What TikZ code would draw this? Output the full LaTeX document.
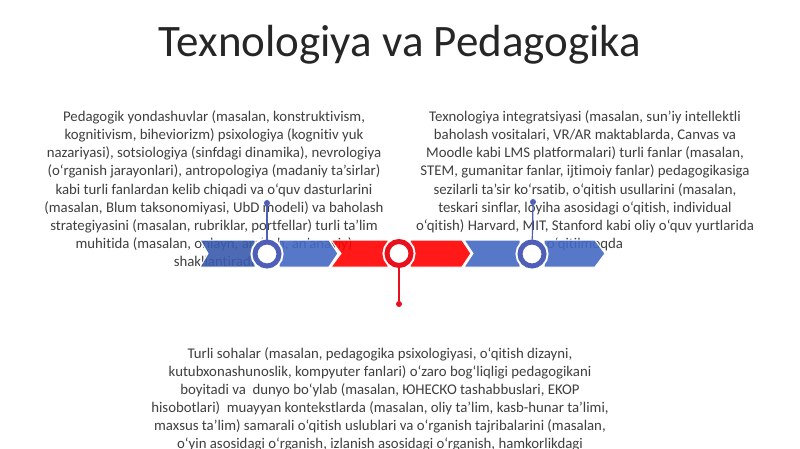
\documentclass[tikz,border=0pt]{standalone}
\usepackage{fontspec}
\setmainfont{Carlito}[Ligatures=NoCommon]
\definecolor{txt}{HTML}{3F3F3F}
\definecolor{ttl}{HTML}{262626}
\definecolor{bdark}{HTML}{3A5BAE}
\definecolor{bmid}{HTML}{4569C4}
\definecolor{ring}{HTML}{4F5FB8}
\definecolor{rred}{HTML}{FF0000}
\definecolor{ringred}{HTML}{E8101C}
\tikzset{
  body/.style={align=center, text=txt, font=\fontsize{14.8}{18.15}\selectfont, inner sep=0},
  seg/.style={draw=white, line width=1pt, fill opacity=0.9},
  ringnode/.style={circle, inner sep=0, minimum size=24pt, line width=5pt, fill=white,
     preaction={draw=white, line width=9pt}},
  dotnode/.style={circle, inner sep=0, minimum size=6pt},
  stem/.style={line width=1.2pt}
}
\begin{document}
\begin{tikzpicture}[x=1pt,y=-1pt]
\useasboundingbox (0,0) rectangle (800,449);
\fill[white] (0,0) rectangle (800,449);
% title
\node[text=ttl, font=\fontsize{45}{54}\selectfont, inner sep=0] (title) at (400,45) {Texnologiya va Pedagogika};
% texts
\node[body, anchor=north] (lt) at (214,110.5) {Pedagogik yondashuvlar (masalan, konstruktivism,\\
kognitivism, biheviorizm) psixologiya (kognitiv yuk\\
nazariyasi), sotsiologiya (sinfdagi dinamika), nevrologiya\\
(o‘rganish jarayonlari), antropologiya (madaniy ta’sirlar)\\
kabi turli fanlardan kelib chiqadi va o‘quv dasturlarini\\
(masalan, Blum taksonomiyasi, UbD modeli) va baholash\\
strategiyasini (masalan, rubriklar, portfellar) turli ta’lim\\
muhitida (masalan, onlayn, aralash, an’anaviy)\\
shakllantiradi};
\node[body, anchor=north] (rt) at (585,110.5) {Texnologiya integratsiyasi (masalan, sun’iy intellektli\\
baholash vositalari, VR/AR maktablarda, Canvas va\\
Moodle kabi LMS platformalari) turli fanlar (masalan,\\
STEM, gumanitar fanlar, ijtimoiy fanlar) pedagogikasiga\\
sezilarli ta’sir ko‘rsatib, o‘qitish usullarini (masalan,\\
teskari sinflar, loyiha asosidagi o‘qitish, individual\\
o‘qitish) Harvard, MIT, Stanford kabi oliy o‘quv yurtlarida\\
o‘qitilmoqda};
\node[body, anchor=north] (bt) at (380,347) {Turli sohalar (masalan, pedagogika psixologiyasi, o‘qitish dizayni,\\
kutubxonashunoslik, kompyuter fanlari) o‘zaro bog‘liqligi pedagogikani\\
boyitadi va~ dunyo bo‘ylab (masalan, ЮНЕСКО tashabbuslari, EKOP\\
hisobotlari)~ muayyan kontekstlarda (masalan, oliy ta’lim, kasb-hunar ta’limi,\\
maxsus ta’lim) samarali o‘qitish uslublari va o‘rganish tajribalarini (masalan,\\
o‘yin asosidagi o‘rganish, izlanish asosidagi o‘rganish, hamkorlikdagi};
% band segments
\fill[seg, fill=bdark] (200,240) -- (255,240) -- (255,267) -- (200,267) -- (208,253.5) -- cycle;
\fill[seg, fill=bmid] (279,240) -- (329,240) -- (338,253.5) -- (329,267) -- (279,267) -- cycle;
\draw[seg, fill=rred] (331,240) -- (388,240) -- (388,267) -- (331,267) -- (341,253.5) -- cycle;
\draw[seg, fill=rred] (410,240) -- (462,240) -- (471,253.5) -- (462,267) -- (410,267) -- cycle;
\draw[seg, fill=bmid] (464,240) -- (520,240) -- (520,267) -- (464,267) -- (473,253.5) -- cycle;
\draw[seg, fill=bmid] (544,240) -- (595,240) -- (605,253.5) -- (595,267) -- (544,267) -- cycle;
% rings
\node[ringnode, draw=ring] (c1) at (267,254) {};
\node[ringnode, draw=ringred] (c2) at (399,253.5) {};
\node[ringnode, draw=ring] (c3) at (532,254) {};
% dots and stems
\node[dotnode, fill=ring] (d1) at (267,203) {};
\node[dotnode, fill=ring] (d3) at (533,202) {};
\node[dotnode, fill=ringred] (d2) at (399,304) {};
\draw[stem, ring] (d1) -- (c1);
\draw[stem, ring] (d3) -- (c3);
\draw[stem, ringred] (c2) -- (d2);
\end{tikzpicture}
\end{document}
